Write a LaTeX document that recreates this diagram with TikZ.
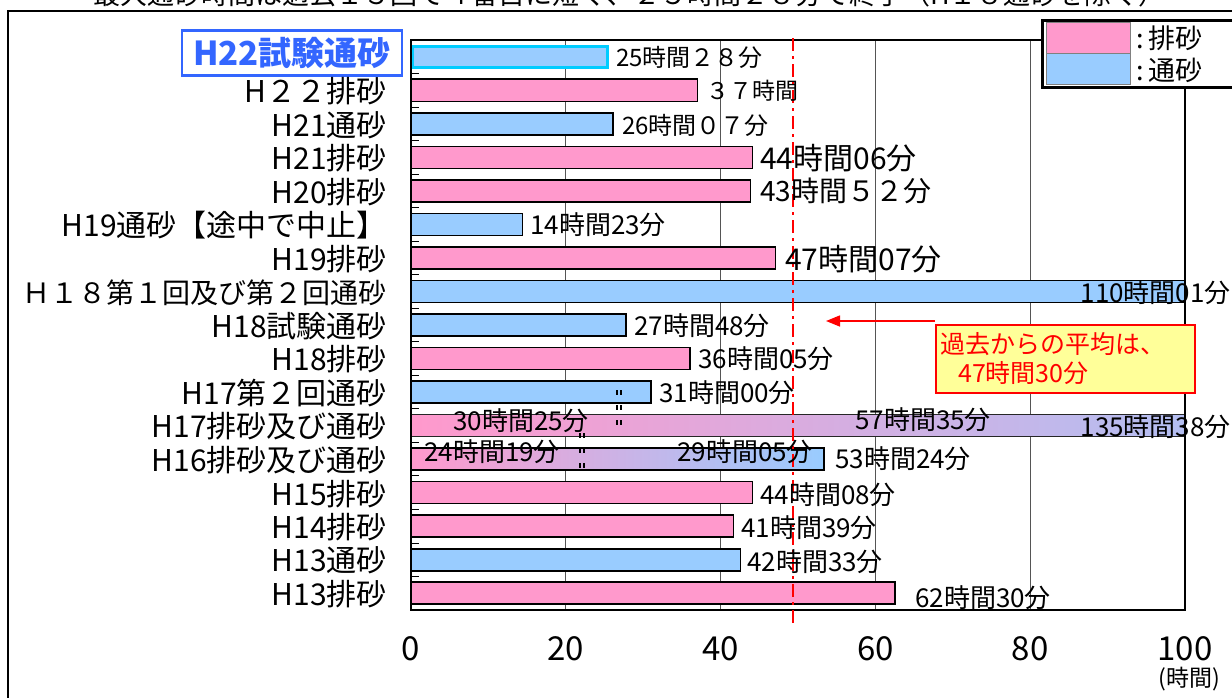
\documentclass[tikz,border=0pt]{standalone}
\usepackage{fontspec}
\setmainfont{Noto Sans CJK JP}
\usetikzlibrary{arrows.meta}
\definecolor{pinkbar}{HTML}{FF99CC}
\definecolor{bluebar}{HTML}{99CCFF}
\definecolor{cyanedge}{HTML}{00CCFF}
\definecolor{titleblue}{HTML}{3366FF}
\definecolor{notefill}{HTML}{FFFF99}
\definecolor{gridgray}{HTML}{555555}
\newcommand\fsz[1]{\fontsize{#1}{#1}\selectfont}
\tikzset{
  barframe/.style={draw=black, line width=1.6},
  gridline/.style={draw=gridgray, line width=0.9},
  cat/.style={anchor=east, inner sep=0, font=\fsz{30}},
  val/.style={anchor=west, inner sep=0, font=\fsz{26}},
  valbig/.style={anchor=west, inner sep=0, font=\fsz{30}},
  valend/.style={anchor=east, inner sep=0, font=\fsz{26}},
  axnum/.style={inner sep=0, font=\fsz{33}},
  legtext/.style={anchor=west, inner sep=0, font=\fsz{27}},
  notetext/.style={anchor=west, inner sep=0, font=\fsz{25}, text=red},
  breakmark/.style={draw=black, line width=1.3, dash pattern=on 5pt off 10pt},
}
\begin{document}
\begin{tikzpicture}[x=1pt,y=-1pt]
\useasboundingbox (0,0) rectangle (1232,697);
\begin{scope}
\clip (0,0) rectangle (1232,697);
\fill[white] (0,0) rectangle (1232,697);
% outer frame
\draw[line width=1.6] (8,11) rectangle (1260,720);
% clipped heading
\node[anchor=base west, inner sep=0, font=\fsz{27}] (title) at (93,4) {最大通砂時間は過去１３回で４番目に短く、２５時間２８分で終了（H１８通砂を除く）};
% grid lines
\foreach \v in {20,40,60,80} \draw[gridline] ({411+7.74*\v},40) -- ({411+7.74*\v},610);
% plain bars
\foreach \i/\h/\c in {2/37/pinkbar,3/26.117/bluebar,4/44.1/pinkbar,5/43.867/pinkbar,6/14.383/bluebar,7/47.117/pinkbar,8/110.017/bluebar,9/27.8/bluebar,10/36.083/pinkbar,11/31/bluebar,14/44.133/pinkbar,15/41.65/pinkbar,16/42.55/bluebar,17/62.5/pinkbar}{
  \pgfmathsetmacro\yc{40+33.53*(\i-0.5)}
  \pgfmathsetmacro\xe{min(411+7.74*\h,1185)}
  \draw[barframe, fill=\c] (411,\yc-11) rectangle (\xe,\yc+11);
}
% H22 test bar
\draw[line width=3, draw=cyanedge, fill=bluebar] (412.5,46) rectangle (607,67.5);
% gradient bars
\begin{scope}
\clip (411,414.3) rectangle (1185,436.3);
\shade[left color=pinkbar, right color=bluebar] (411,414.3) rectangle (1461,436.3);
\end{scope}
\draw[line width=1.1, draw=black!85] (411,414.3) rectangle (1185,436.3);
\shade[left color=pinkbar, right color=bluebar] (411,447.8) rectangle (824,469.8);
\draw[barframe] (411,447.8) rectangle (824,469.8);
% break marks
\foreach \x in {617,621} \draw[breakmark] (\x,390) -- (\x,428);
\foreach \x in {580,584} \draw[breakmark] (\x,433) -- (\x,472);
% plot frame and ticks
\draw[line width=1.8] (411,40) rectangle (1185,610);
\foreach \k in {1,...,16} \draw[line width=0.8] (411,{40+33.53*\k}) -- (419,{40+33.53*\k});
% average line
\draw[red, line width=2.2, dash pattern=on 13pt off 5pt on 3pt off 5pt] (793,38) -- (793,625);
% category labels
\node[draw=titleblue, line width=2.5, fill=white, text=titleblue, font=\fsz{33}\bfseries, minimum width=220, minimum height=45, inner sep=0] (cat1) at (292,53) {H22試験通砂};
\foreach \i/\t in {2/H２２排砂,3/H21通砂,4/H21排砂,5/H20排砂,6/H19通砂【途中で中止】,7/H19排砂,9/H18試験通砂,10/H18排砂,11/H17第２回通砂,12/H17排砂及び通砂,13/H16排砂及び通砂,14/H15排砂,15/H14排砂,16/H13通砂,17/H13排砂}
  \node[cat] (cat\i) at (387,{40+33.53*(\i-0.5)+1}) {\t};
\node[cat, font=\fsz{28}] (cat8) at (387,292.3) {Ｈ１８第１回及び第２回通砂};
% value labels
\node[val, font=\fsz{24}] (v1) at (616,57) {25時間２８分};
\node[val, font=\fsz{23}] (v2) at (706,91) {３７時間};
\node[val, font=\fsz{24}] (v3) at (622,125) {26時間０７分};
\node[valbig] (v4) at (760,158) {44時間06分};
\node[valbig, font=\fsz{28}] (v5) at (760,191) {43時間５２分};
\node[val] (v6) at (530,225) {14時間23分};
\node[valbig] (v7) at (785,259) {47時間07分};
\node[valend] (v8) at (1231,293) {110時間01分};
\node[val] (v9) at (634,326) {27時間48分};
\node[val] (v10) at (698,359) {36時間05分};
\node[val] (v11) at (659,393) {31時間00分};
\node[val] (v12a) at (453,421) {30時間25分};
\node[val] (v12b) at (855,420) {57時間35分};
\node[valend] (v12c) at (1231,427) {135時間38分};
\node[val] (v13a) at (424,452) {24時間19分};
\node[val] (v13b) at (677,452) {29時間05分};
\node[val] (v13c) at (835,459) {53時間24分};
\node[val] (v14) at (760,495) {44時間08分};
\node[val] (v15) at (741,528) {41時間39分};
\node[val] (v16) at (747,562) {42時間33分};
\node[val] (v17) at (915,598) {62時間30分};
% axis numbers
\node[axnum] (x0) at (411,649) {0};
\node[axnum] (x20) at (565.8,649) {20};
\node[axnum] (x40) at (720.6,649) {40};
\node[axnum] (x60) at (875.4,649) {60};
\node[axnum] (x80) at (1030.2,649) {80};
\node[axnum] (x100) at (1185,649) {100};
\node[inner sep=0, font=\fsz{23}] (unit) at (1189,679) {(時間)};
% legend
\draw[line width=3, fill=white] (1042,20) rectangle (1262,87);
\draw[fill=pinkbar, draw=gray, line width=0.8] (1046,22) rectangle (1130,53);
\draw[fill=bluebar, draw=gray, line width=0.8] (1046,53) rectangle (1130,84);
\node[legtext] (leg1) at (1136,38) {:\,排砂};
\node[legtext] (leg2) at (1136,70) {:\,通砂};
% callout
\node[draw=red, line width=2, fill=notefill, minimum width=259, minimum height=68, inner sep=0, anchor=north west] (note) at (935,324) {};
\node[notetext] (note1) at (940,344) {過去からの平均は、};
\node[notetext] (note2) at (958,373) {47時間30分};
\coordinate (arrowtip) at (826,321);
\draw[red, line width=1.5, -{Triangle[length=14pt,width=11pt]}] (note.north west |- arrowtip) -- (arrowtip);
\end{scope}
\end{tikzpicture}
\end{document}
